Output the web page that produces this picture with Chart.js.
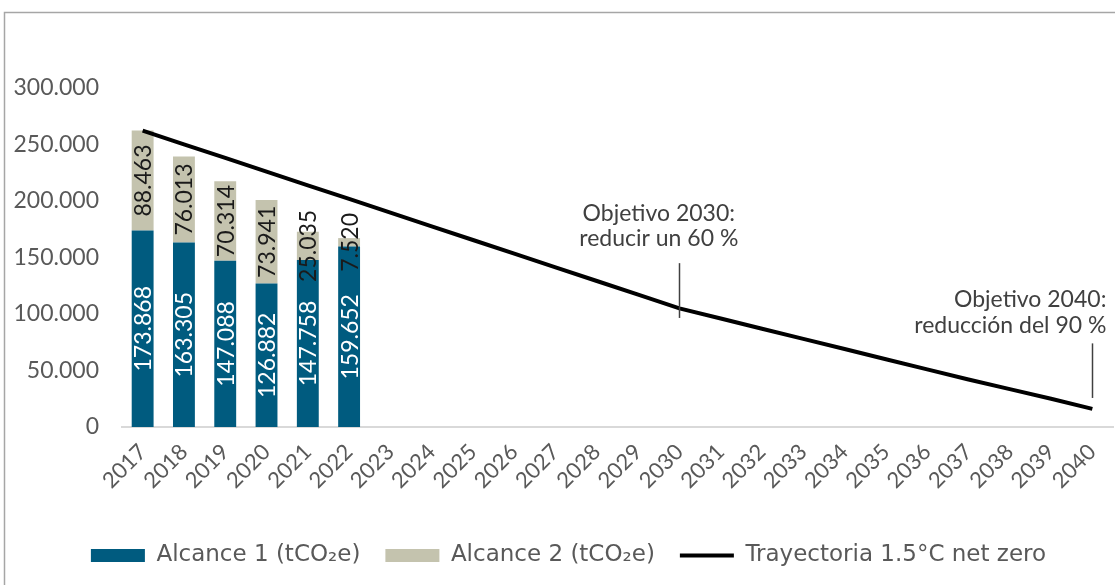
<!DOCTYPE html>
<html>
<head>
<meta charset="utf-8">
<script src="https://cdn.jsdelivr.net/npm/chart.js@4.4.1/dist/chart.umd.min.js"></script>
<style>
  html, body { margin: 0; padding: 0; background: #ffffff; }
  #wrap { position: relative; width: 1115px; height: 585px; }
</style>
</head>
<body>
<div id="wrap"><canvas id="graph-viewer"></canvas></div>
<script>
const years = ['2017', '2018', '2019', '2020', '2021', '2022', '2023', '2024', '2025', '2026', '2027', '2028',
    '2029', '2030', '2031', '2032', '2033', '2034', '2035', '2036', '2037', '2038', '2039', '2040'];
const alcance1 = [173868, 163305, 147088, 126882, 147758, 159652];
const alcance2 = [88463, 76013, 70314, 73941, 25035, 7520];
const trayectoria = [262300, 250200, 238100, 226000, 213900, 201800, 189700, 177600, 165500, 153400, 141300, 129200,
    117100, 105000, 96000, 87000, 78000, 69000, 60000, 51000, 42000, 33500, 25000, 16000];
const yTicks = [0, 50000, 100000, 150000, 200000, 250000, 300000];
const seriesNames = ['Alcance 1 (tCO₂e)', 'Alcance 2 (tCO₂e)', 'Trayectoria 1.5°C net zero'];
// target notes: x in category units, text rows and marker line in data units
const notes = [
    { x: 12.5, align: 'center', lines: ['Objetivo 2030:', 'reducir un 60 %'], ys: [188500, 167000], tick: 13, from: 145000, to: 96500 },
    { x: 23.34, align: 'right', lines: ['Objetivo 2040:', 'reducción del 90 %'], ys: [113000, 89400], tick: 23, from: 74000, to: 25700 }
];

const FONT = 'Lato, "DejaVu Sans", sans-serif';
const GREY = '#595959';

function fmt(n) {
    return String(n).replace(/\B(?=(\d{3})+(?!\d))/g, '.');
}

const frame = {
    id: 'frame',
    beforeDraw(chart) {
        const ctx = chart.ctx;
        ctx.save();
        ctx.strokeStyle = '#a6a6a6';
        ctx.lineWidth = 1.5;
        ctx.beginPath();
        ctx.moveTo(4.5, 600);
        ctx.lineTo(4.5, 12.5);
        ctx.lineTo(1130, 12.5);
        ctx.stroke();
        ctx.restore();
    },
    afterLayout(chart) {
        // legend in the original sits a bit right of the canvas centre
        if (chart.legend) {
            chart.legend.left += 12;
            chart.legend.right += 12;
        }
    }
};

const barLabels = {
    id: 'barLabels',
    afterDatasetsDraw(chart) {
        const ctx = chart.ctx;
        ctx.save();
        ctx.font = '23px ' + FONT;
        ctx.textAlign = 'center';
        ctx.textBaseline = 'middle';
        [0, 1].forEach(di => {
            const meta = chart.getDatasetMeta(di);
            const vals = chart.data.datasets[di].data;
            ctx.fillStyle = di === 0 ? '#ffffff' : '#1a1a1a';
            meta.data.forEach((el, i) => {
                if (vals[i] == null) return;
                ctx.save();
                ctx.translate(el.x, (el.y + el.base) / 2);
                ctx.rotate(-Math.PI / 2);
                ctx.fillText(fmt(vals[i]), 0, 1);
                ctx.restore();
            });
        });
        ctx.restore();
    }
};

const targets = {
    id: 'targets',
    afterDraw(chart) {
        const ctx = chart.ctx;
        const xs = chart.scales.x, ys = chart.scales.y;
        ctx.save();
        ctx.font = '23px ' + FONT;
        ctx.fillStyle = '#404040';
        ctx.textBaseline = 'middle';
        notes.forEach(n => {
            ctx.textAlign = n.align;
            const px = xs.getPixelForValue(n.x);
            n.lines.forEach((t, i) => ctx.fillText(t, px, ys.getPixelForValue(n.ys[i])));
            const tx = Math.round(xs.getPixelForValue(n.tick)) + 0.5;
            ctx.strokeStyle = '#404040';
            ctx.lineWidth = 1.5;
            ctx.beginPath();
            ctx.moveTo(tx, ys.getPixelForValue(n.from));
            ctx.lineTo(tx, ys.getPixelForValue(n.to));
            ctx.stroke();
        });
        ctx.restore();
    }
};

const data = {
    labels: years,
    datasets: [
        {
            type: 'bar',
            label: seriesNames[0],
            data: alcance1,
            backgroundColor: '#005b7f',
            borderWidth: 0,
            order: 1
        },
        {
            type: 'bar',
            label: seriesNames[1],
            data: alcance2,
            backgroundColor: '#c4c3ae',
            borderWidth: 0,
            order: 1
        },
        {
            type: 'line',
            label: seriesNames[2],
            data: trayectoria,
            borderColor: '#000000',
            backgroundColor: '#000000',
            borderWidth: 4,
            pointRadius: 0,
            tension: 0,
            stack: 'traj',
            order: 0
        }
    ]
};

const options = {
    responsive: true,
    maintainAspectRatio: false,
    animation: false,
    layout: { padding: { top: 88, left: 0, right: 2, bottom: 8 } },
    datasets: { bar: { categoryPercentage: 1, barPercentage: 0.53 } },
    plugins: {
        tooltip: { enabled: false },
        legend: {
            position: 'bottom',
            labels: {
                color: GREY,
                font: { family: '"DejaVu Sans", sans-serif', size: 23 },
                usePointStyle: true,
                pointStyleWidth: 54,
                boxHeight: 13,
                padding: 25,
                generateLabels(chart) {
                    const items = Chart.defaults.plugins.legend.labels.generateLabels(chart);
                    items.sort((a, b) => a.datasetIndex - b.datasetIndex);
                    items.forEach(it => {
                        if (it.datasetIndex < 2) {
                            it.pointStyle = 'rect';
                            it.lineWidth = 0;
                        } else {
                            it.pointStyle = 'line';
                            it.lineWidth = 4;
                            it.strokeStyle = '#000000';
                        }
                    });
                    return items;
                }
            }
        }
    },
    scales: {
        x: {
            stacked: true,
            grid: { display: false, drawTicks: false },
            border: { display: true, color: '#d9d9d9', width: 2 },
            ticks: {
                color: GREY,
                font: { family: FONT, size: 22 },
                minRotation: 45,
                maxRotation: 45,
                autoSkip: false,
                padding: 12
            },
            afterFit(s) {
                s.height = 92;
                s.paddingLeft = 0;
                s.paddingRight = 0;
            }
        },
        y: {
            stacked: true,
            min: 0,
            max: 300000,
            grid: { display: false, drawTicks: false },
            border: { display: false },
            afterBuildTicks(s) { s.ticks = yTicks.map(v => ({ value: v })); },
            ticks: {
                color: GREY,
                font: { family: FONT, size: 23 },
                padding: 23,
                callback: v => fmt(v)
            },
            afterFit(s) { s.width = 122; }
        }
    }
};

new Chart(document.getElementById('graph-viewer').getContext('2d'), {
    data: data,
    options: options,
    plugins: [frame, barLabels, targets]
});
</script>
</body>
</html>
